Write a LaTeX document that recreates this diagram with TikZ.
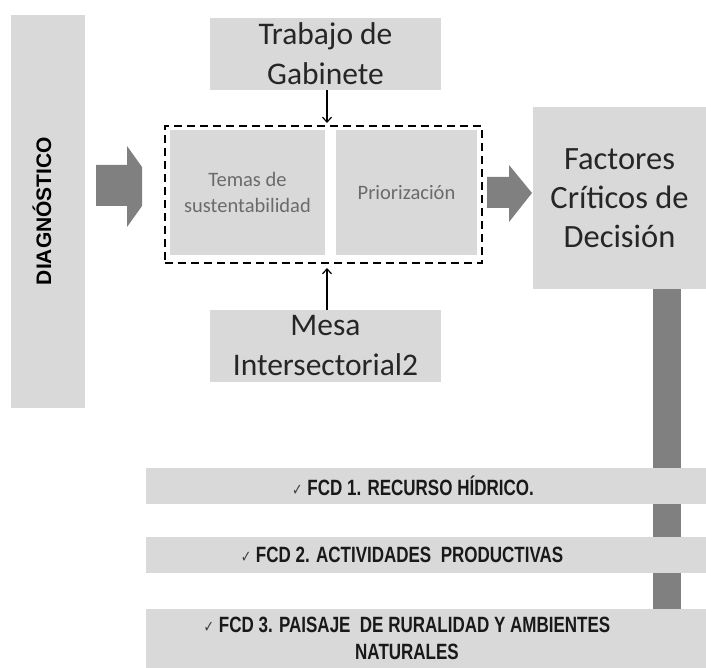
\documentclass[tikz,border=0pt]{standalone}
\usepackage{fontspec}
\setmainfont{Carlito}
\newfontfamily\arialfont{Liberation Sans}
\newfontfamily\symfont{DejaVu Sans}
\usetikzlibrary{positioning,arrows.meta}

\definecolor{boxgray}{HTML}{D9D9D9}
\definecolor{arrowgray}{HTML}{808080}
\definecolor{smalltext}{HTML}{6B6B6B}
\definecolor{bigtext}{HTML}{262626}
\newcommand{\tick}{{\symfont\color{darkgray}\fontsize{12.5}{12.5}\selectfont ✓}}
\newcommand{\tallb}[1]{\scalebox{1}[1.3]{#1}}

\begin{document}
\begin{tikzpicture}[x=1pt,y=-1pt]
  \tikzstyle{gbox} = [fill=boxgray, draw=none, inner sep=0pt, align=center]
  \tikzstyle{bigfont} = [font=\fontsize{31.5}{40}\selectfont, text=bigtext]
  \tikzstyle{smallfont} = [font=\fontsize{20.5}{26}\selectfont, text=smalltext]
  \tikzstyle{fcdfont} = [font=\arialfont\bfseries\fontsize{17}{27}\selectfont, text=black!90, align=center]
  \tikzstyle{thinarrow} = [line width=1.2pt, -{Straight Barb[length=5pt,width=9pt]}]
  \useasboundingbox (0,0) rectangle (706,668);

  % left column
  \node[gbox, minimum width=74pt, minimum height=393pt] (diag) at (48,211.5) {};
  \node[rotate=90, font=\arialfont\bfseries\fontsize{21}{21}\selectfont] (diagtxt) at (42,211) {DIAGNÓSTICO};

  % process block
  \node[gbox, bigfont, minimum width=231pt, minimum height=72pt] (gabinete) at (325.5,54) {Trabajo de\\Gabinete};
  \node[draw, line width=2pt, dash pattern=on 8pt off 5pt, minimum width=317pt, minimum height=137pt] (proceso) at (323.5,194.5) {};
  \node[gbox, smallfont, minimum width=155pt, minimum height=125pt] (temas) at (247.5,192.5) {Temas de\\sustentabilidad};
  \node[gbox, smallfont, minimum width=141pt, minimum height=125pt] (prior) at (406.5,192.5) {Priorización};
  \node[gbox, bigfont, minimum width=231pt, minimum height=72pt] (mesa) at (325.5,346) {Mesa\\Intersectorial2};
  \node[gbox, font=\fontsize{32.5}{39}\selectfont, text=bigtext, minimum width=173pt, minimum height=182pt] (factores) at (619.5,198) {Factores\\Críticos de\\Decisión};

  \draw[thinarrow] ([xshift=1.5pt]gabinete.south) -- ([xshift=1.5pt]gabinete.south |- proceso.north) [shorten >=2pt];
  \draw[thinarrow] ([xshift=1.5pt]mesa.north) -- ([xshift=1.5pt]mesa.north |- proceso.south) [shorten >=4pt];

  % block arrows
  \fill[arrowgray] (96,165) -- (127,165) -- (127,146) -- (142,167) -- (142,206) -- (127,227) -- (127,206) -- (96,206) -- cycle;
  \fill[arrowgray] (487,177) -- (509,177) -- (509,165) -- (532,193) -- (509,222) -- (509,208) -- (487,208) -- cycle;

  % vertical bar and FCD list
  \fill[arrowgray] (653,289) rectangle (681,668);
  \node[gbox, minimum width=560pt, minimum height=36pt] (fcd1) at (426,486) {};
  \node[gbox, minimum width=560pt, minimum height=36pt] (fcd2) at (426,555) {};
  \node[gbox, minimum width=560pt, minimum height=59pt] (fcd3) at (426,638.5) {};
  \node[fcdfont] (fcdtxt1) at (413,486) {\tallb{\tick\ FCD 1. RECURSO HÍDRICO.}};
  \node[fcdfont] (fcdtxt2) at (402,555) {\tallb{\tick\ FCD 2. ACTIVIDADES\ \ PRODUCTIVAS}};
  \node[fcdfont] (fcdtxt3) at (407,638) {\tallb{\tick\ FCD 3. PAISAJE\ \ DE RURALIDAD Y AMBIENTES}\\\tallb{NATURALES}};
\end{tikzpicture}
\end{document}
